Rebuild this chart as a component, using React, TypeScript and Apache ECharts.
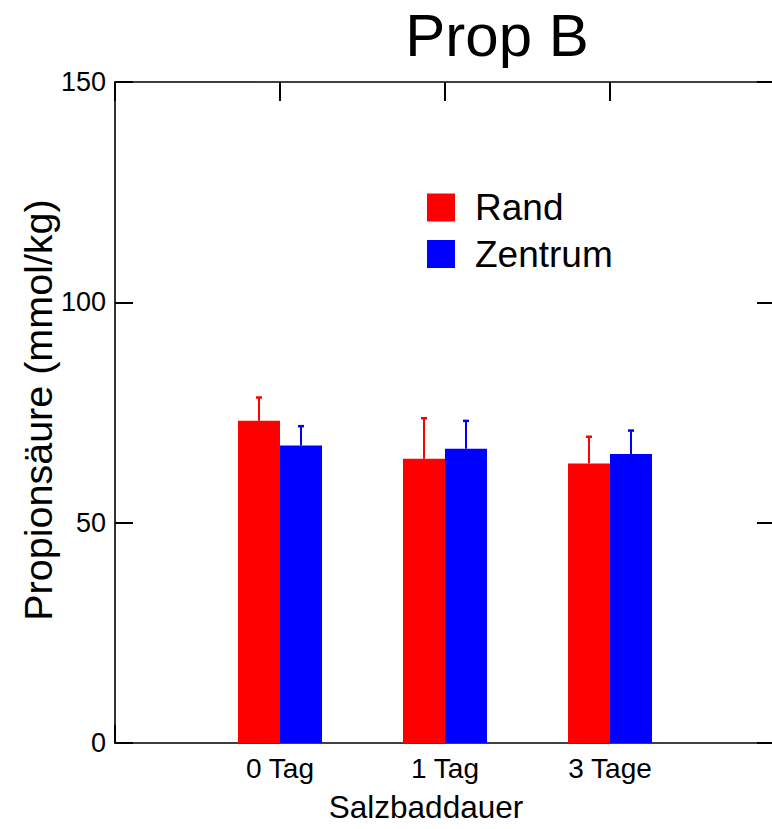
import React, { useEffect, useRef } from "react";
import * as echarts from "echarts";

const categories = ["0 Tag", "1 Tag", "3 Tage"];
const randValues = [73.1, 64.5, 63.4];
const randUpper = [78.4, 73.7, 69.5];
const zentrumValues = [67.5, 66.8, 65.6];
const zentrumUpper = [71.9, 73.1, 70.9];
const yTicks = [0, 50, 100, 150];

const FONT = "'Liberation Sans', Arial, Helvetica, sans-serif";
const RED = "#ff0000";
const BLUE = "#0000ff";
const BAR_W = 42;

export default function App() {
  const ref = useRef<HTMLDivElement>(null);

  useEffect(() => {
    if (!ref.current) return;
    const chart = echarts.init(ref.current, undefined, { renderer: "svg" });
    const axisCats = ["", ...categories, ""];
    const pad = (arr: number[]) => [null, ...arr, null];

    const errData = (vals: number[], ups: number[]) =>
      vals.map((v, i) => [i + 1, v, ups[i]]);

    const errSeries = (name: string, vals: number[], ups: number[], color: string, offset: number) => ({
      type: "custom",
      name,
      z: 5,
      xAxisIndex: 0,
      yAxisIndex: 0,
      data: errData(vals, ups),
      renderItem: (params: any, api: any) => {
        const b = api.coord([api.value(0), api.value(1)]);
        const t = api.coord([api.value(0), api.value(2)]);
        const x = b[0] + offset;
        return {
          type: "group",
          children: [
            { type: "line", shape: { x1: x, y1: b[1], x2: x, y2: t[1] }, style: { stroke: color, lineWidth: 2 } },
            { type: "line", shape: { x1: x - 3, y1: t[1], x2: x + 3, y2: t[1] }, style: { stroke: color, lineWidth: 2.5 } },
          ],
        };
      },
    });

    const mkLine = () => ({ show: true, onZero: false, lineStyle: { color: "#000", width: 1.6 } });
    const mkTick = (len: number) => ({ show: true, inside: true, length: len, interval: 0, alignWithLabel: false, lineStyle: { color: "#000", width: 2 } });

    chart.setOption({
      animation: false,
      backgroundColor: "#fff",
      textStyle: { fontFamily: FONT },
      grid: { left: 115, top: 82, right: 5, bottom: 86, containLabel: false },
      legend: {
        data: ["Rand", "Zentrum"],
        orient: "vertical",
        left: 427,
        top: 189,
        padding: 0,
        itemWidth: 28,
        itemHeight: 28,
        itemGap: 9.5,
        icon: "rect",
        textStyle: { fontSize: 37, color: "#000", fontFamily: FONT, padding: [0, 0, 0, 15] },
      },
      xAxis: [
        {
          type: "category",
          data: axisCats,
          boundaryGap: false,
          position: "bottom",
          axisLine: mkLine(),
          axisTick: mkTick(18),
          axisLabel: { fontSize: 28, color: "#000", margin: 11, fontFamily: FONT, interval: 0 },
          splitLine: { show: false },
        },
        {
          type: "category",
          data: axisCats,
          boundaryGap: false,
          position: "top",
          axisLine: mkLine(),
          axisTick: mkTick(19),
          axisLabel: { show: false },
          splitLine: { show: false },
        },
      ],
      yAxis: [
        {
          type: "value",
          min: yTicks[0],
          max: yTicks[yTicks.length - 1],
          interval: 50,
          position: "left",
          axisLine: mkLine(),
          axisTick: mkTick(18),
          axisLabel: { fontSize: 27, color: "#000", margin: 9, fontFamily: FONT },
          splitLine: { show: false },
        },
        {
          type: "value",
          min: yTicks[0],
          max: yTicks[yTicks.length - 1],
          interval: 50,
          position: "right",
          axisLine: mkLine(),
          axisTick: mkTick(18),
          axisLabel: { show: false },
          splitLine: { show: false },
        },
      ],
      series: [
        {
          type: "bar",
          name: "Rand",
          data: pad(randValues),
          barWidth: BAR_W,
          barGap: "0%",
          itemStyle: { color: RED },
          z: 3,
        },
        {
          type: "bar",
          name: "Zentrum",
          data: pad(zentrumValues),
          barWidth: BAR_W,
          barGap: "0%",
          itemStyle: { color: BLUE },
          z: 3,
        },
        errSeries("RandErr", randValues, randUpper, RED, -BAR_W / 2),
        errSeries("ZentrumErr", zentrumValues, zentrumUpper, BLUE, BAR_W / 2),
      ],
      graphic: [
        {
          type: "text",
          x: 497,
          y: 35,
          style: { text: "Prop B", fontSize: 60, fontFamily: FONT, fill: "#000", textAlign: "center", textVerticalAlign: "middle" },
        },
        {
          type: "text",
          x: 38,
          y: 410,
          rotation: Math.PI / 2,
          style: { text: "Propionsäure (mmol/kg)", fontSize: 39.5, fontFamily: FONT, fill: "#000", textAlign: "center", textVerticalAlign: "middle" },
        },
        {
          type: "text",
          x: 426,
          y: 807,
          style: { text: "Salzbaddauer", fontSize: 31.5, fontFamily: FONT, fill: "#000", textAlign: "center", textVerticalAlign: "middle" },
        },
      ],
    });
    return () => chart.dispose();
  }, []);

  return (
    <div style={{ position: "absolute", left: 0, top: 0, width: 772, height: 829, overflow: "hidden", background: "#fff" }}>
      <div ref={ref} style={{ width: 780, height: 829 }} />
    </div>
  );
}
